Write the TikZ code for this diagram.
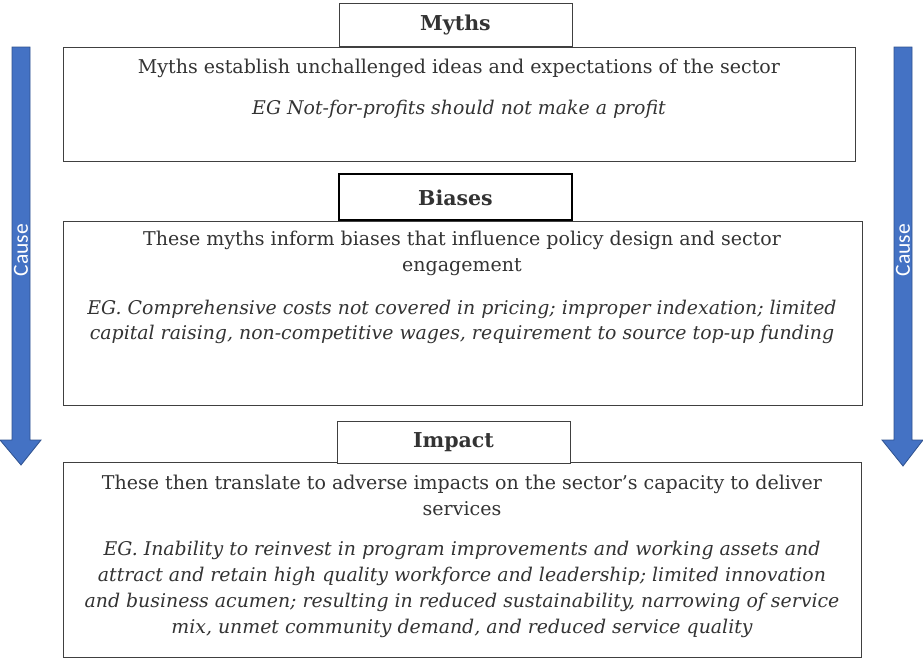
\documentclass[tikz,border=0pt]{standalone}
\usepackage{fontspec}
\setmainfont{DejaVu Serif}
\newfontfamily\labelfont{Carlito}
\usetikzlibrary{shapes.arrows}
\definecolor{ink}{HTML}{333333}
\definecolor{frame}{HTML}{404040}
\definecolor{arrowfill}{HTML}{4472C4}
\definecolor{arrowedge}{HTML}{2F528F}
\tikzset{
  titlebox/.style={draw=frame, line width=1pt, fill=white},
  titletext/.style={text=ink, font=\fontsize{20.5}{22}\selectfont\bfseries},
  panel/.style={draw=frame, line width=1pt, fill=white},
  body/.style={text=ink, align=center, font=\fontsize{19}{25.5}\selectfont},
  example/.style={text=ink, align=center, font=\fontsize{18.9}{25.8}\selectfont\itshape},
  causearrow/.style={fill=arrowfill, draw=arrowedge, line width=0.8pt},
  causelabel/.style={text=white, rotate=90, font=\labelfont\fontsize{21.5}{22}\selectfont}
}
\begin{document}
\begin{tikzpicture}[x=1pt,y=-1pt]
\useasboundingbox (0,0) rectangle (923,659);
% side arrows
\draw[causearrow] (12,47) -- (30,47) -- (30,440) -- (41,440) -- (21,465) -- (0,440) -- (12,440) -- cycle;
\draw[causearrow] (894,47) -- (912,47) -- (912,440) -- (923,440) -- (903,466) -- (882,440) -- (894,440) -- cycle;
\node[causelabel] (causeL) at (21,250) {Cause};
\node[causelabel] (causeR) at (903,250) {Cause};
% panels
\draw[panel] (63,47) rectangle (855,161);
\draw[panel] (63,221) rectangle (862,405);
\draw[panel] (63,462) rectangle (861,657);
% titles
\draw[titlebox] (339,3) rectangle (572,46);
\node[titletext] (myths) at (455.5,24.5) {Myths};
\draw[titlebox, draw=black, line width=1.8pt] (339,174) rectangle (572,220);
\node[titletext] (biases) at (455.5,198) {Biases};
\draw[titlebox] (337,421) rectangle (570,463);
\node[titletext] (impact) at (453.5,442) {Impact};
% panel texts
\node[body] (m1) at (459,68) {Myths establish unchallenged ideas and expectations of the sector};
\node[example] (m2) at (459,109) {EG Not-for-profits should not make a profit};
\node[body] (b1) at (462,253.5) {These myths inform biases that influence policy design and sector\\engagement};
\node[example] (b2) at (462,322) {EG. Comprehensive costs not covered in pricing; improper indexation; limited\\capital raising, non-competitive wages, requirement to source top-up funding};
\node[body] (i1) at (462,495.5) {These then translate to adverse impacts on the sector's capacity to deliver\\services};
\node[example] (i2) at (462,589.5) {EG. Inability to reinvest in program improvements and working assets and\\attract and retain high quality workforce and leadership; limited innovation\\and business acumen; resulting in reduced sustainability, narrowing of service\\mix, unmet community demand, and reduced service quality};
\end{tikzpicture}
\end{document}
